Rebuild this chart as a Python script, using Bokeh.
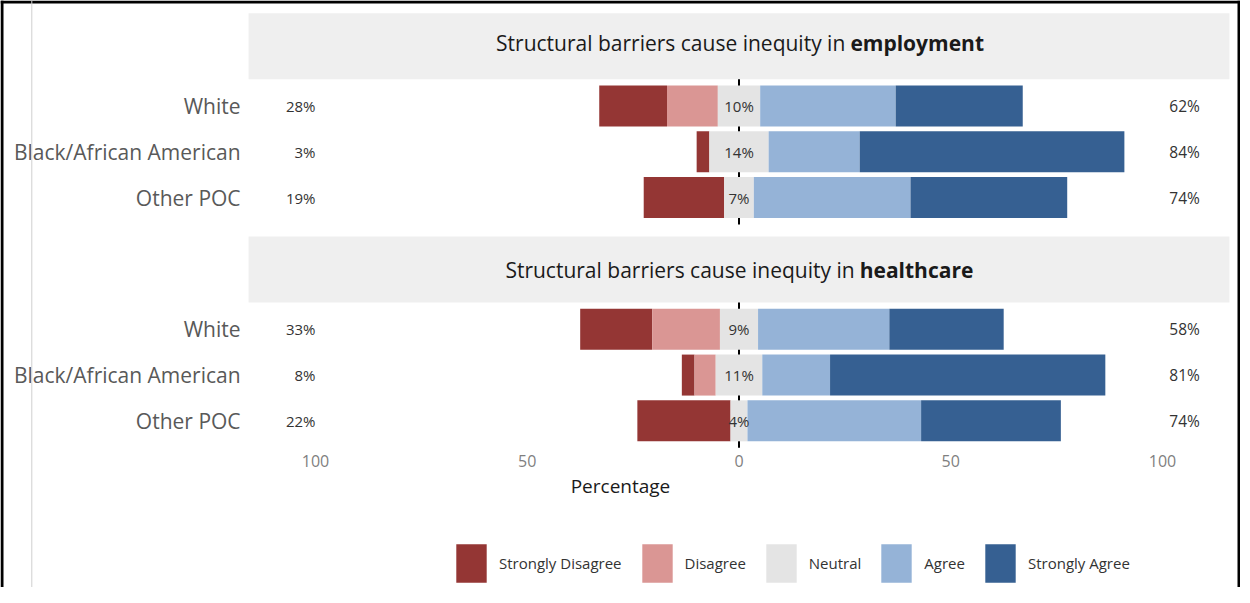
from bokeh.plotting import figure
from bokeh.models import (Range1d, LinearAxis, FixedTicker, ColumnDataSource,
                          Legend, LegendItem, Span)
from bokeh.core.properties import value
from bokeh.embed import file_html
from bokeh.resources import INLINE

# ---------------- data ----------------
categories = ["White", "Black/African American", "Other POC"]
levels = ["Strongly Disagree", "Disagree", "Neutral", "Agree", "Strongly Agree"]
panel_topics = ["employment", "healthcare"]

emp_strongly_disagree = [16, 3, 19]
emp_disagree = [12, 0, 0]
emp_neutral = [10, 14, 7]
emp_agree = [32, 21.5, 37]
emp_strongly_agree = [30, 62.5, 37]

hc_strongly_disagree = [17, 3, 22]
hc_disagree = [16, 5, 0]
hc_neutral = [9, 11, 4]
hc_agree = [31, 16, 41]
hc_strongly_agree = [27, 65, 33]

x_ticks = [-100, -50, 0, 50, 100]
x_tick_labels = ["100", "50", "0", "50", "100"]

# ---------------- styles / layout ----------------
colors = ["#943634", "#DA9694", "#E4E4E4", "#95B3D7", "#366092"]
FONT = "Open Sans"
W, H = 1240, 587
PX_PER_UNIT = 4.235
ZERO_PX = 738.5
TOP = 12.7
STRIP_H = 66
PAD = 4
ROW_H = 45.75
BAR_H = 41
GAP = 12
STRIP_X = 115.8
LEFT_LABEL_X = -100
RIGHT_LABEL_X = 101.6
TITLE_JOIN = [25.1, 27.3]
TITLE_GAP = 1.2
TITLE_DY = [-3, 1]

panels = [
    [emp_strongly_disagree, emp_disagree, emp_neutral, emp_agree, emp_strongly_agree],
    [hc_strongly_disagree, hc_disagree, hc_neutral, hc_agree, hc_strongly_agree],
]

x_range = Range1d(-ZERO_PX / PX_PER_UNIT, (W - ZERO_PX) / PX_PER_UNIT)
y_range = Range1d(H, 0)

p = figure(width=W, height=H, x_range=x_range, y_range=y_range,
           x_axis_location=None, y_axis_location=None,
           toolbar_location=None, output_backend="svg", min_border=0)
p.grid.grid_line_color = None
p.outline_line_color = None
p.background_fill_color = "white"
p.border_fill_color = "white"

strip_top, strip_bot, panel_bot, row_y = [], [], [], []
seg_cols = {lv: dict(y=[], left=[], right=[]) for lv in levels}
lab = dict(y=[], neutral=[], low=[], high=[])
for k, series in enumerate(panels):
    st = TOP + k * (STRIP_H + 2 * PAD + 3 * ROW_H + GAP)
    sb = st + STRIP_H
    pb = sb + 2 * PAD + 3 * ROW_H
    strip_top.append(st); strip_bot.append(sb); panel_bot.append(pb)
    sd, d, n, a, sa = series
    for i in range(len(categories)):
        yc = sb + PAD + (i + 0.5) * ROW_H
        row_y.append(yc)
        vals = [sd[i], d[i], n[i], a[i], sa[i]]
        start = -(sd[i] + d[i] + n[i] / 2)
        for lv, v in zip(levels, vals):
            seg_cols[lv]["y"].append(yc)
            seg_cols[lv]["left"].append(start)
            seg_cols[lv]["right"].append(start + v)
            start += v
        lab["y"].append(yc)
        lab["neutral"].append(f"{round(n[i])}%")
        lab["low"].append(f"{round(sd[i] + d[i])}%")
        lab["high"].append(f"{round(a[i] + sa[i])}%")

# strip backgrounds
p.quad(left=-STRIP_X, right=STRIP_X, top=strip_top, bottom=strip_bot,
       fill_color="#EFEFEF", line_color=None)

# zero reference line
p.segment(x0=[0, 0], y0=strip_bot, x1=[0, 0], y1=panel_bot,
          line_color="black", line_width=2)

# bars
renderers = []
for lv, c in zip(levels, colors):
    src = ColumnDataSource(seg_cols[lv])
    r = p.hbar(y="y", left="left", right="right", height=BAR_H, source=src,
               fill_color=c, line_color=None)
    renderers.append(r)

lsrc = ColumnDataSource(lab)
p.text(x=0, y="y", text="neutral", source=lsrc, text_align="center",
       text_baseline="middle", text_font=value(FONT), text_font_size="15px",
       text_color="#333333")
p.text(x=LEFT_LABEL_X, y="y", text="low", source=lsrc, text_align="right",
       text_baseline="middle", text_font=value(FONT), text_font_size="15px",
       text_color="#333333")
p.text(x=RIGHT_LABEL_X, y="y", text="high", source=lsrc, text_align="left",
       text_baseline="middle", text_font=value(FONT), text_font_size="15.5px",
       text_color="#333333")

# strip titles
for k, topic in enumerate(panel_topics):
    yc = (strip_top[k] + strip_bot[k]) / 2 + TITLE_DY[k]
    p.text(x=[TITLE_JOIN[k]], y=[yc], text=["Structural barriers cause inequity in"],
           text_align="right", text_baseline="middle", text_font=value(FONT),
           text_font_size="21px", text_color="#1a1a1a")
    p.text(x=[TITLE_JOIN[k] + TITLE_GAP], y=[yc], text=[topic],
           text_align="left", text_baseline="middle", text_font=value(FONT),
           text_font_size="21px", text_font_style="bold", text_color="#1a1a1a")

# category axis (left)
yaxis = LinearAxis(fixed_location=-STRIP_X,
                   ticker=FixedTicker(ticks=row_y),
                   major_label_overrides={y: categories[i % 3] for i, y in enumerate(row_y)},
                   axis_line_color=None, major_tick_line_color=None,
                   minor_tick_line_color=None, major_tick_out=0, major_tick_in=0,
                   major_label_standoff=8,
                   major_label_text_font=FONT, major_label_text_font_size="21px",
                   major_label_text_color="#595959")
p.add_layout(yaxis, "left")

# x axis (below)
xaxis = LinearAxis(fixed_location=panel_bot[-1],
                   ticker=FixedTicker(ticks=x_ticks),
                   major_label_overrides=dict(zip(x_ticks, x_tick_labels)),
                   axis_label="Percentage",
                   axis_line_color=None, major_tick_line_color=None,
                   minor_tick_line_color=None, major_tick_out=0, major_tick_in=0,
                   major_label_standoff=7, axis_label_standoff=3,
                   major_label_text_font=FONT, major_label_text_font_size="16px",
                   major_label_text_color="#7f7f7f",
                   axis_label_text_font=FONT, axis_label_text_font_size="19px",
                   axis_label_text_font_style="normal", axis_label_text_color="#1a1a1a")
p.add_layout(xaxis, "below")

# legend
legend = Legend(items=[LegendItem(label=lv, renderers=[r]) for lv, r in zip(levels, renderers)],
                orientation="horizontal", location=(452, 0),
                glyph_width=38, glyph_height=48, label_standoff=9, spacing=16,
                padding=0, margin=0, border_line_color=None, background_fill_alpha=0,
                label_text_font=FONT, label_text_font_size="15px",
                label_text_color="#333333")
p.add_layout(legend)

# frame decorations
x0 = x_range.start
p.add_layout(Span(location=x0 + 1.5 / PX_PER_UNIT, dimension="height",
                  line_color="black", line_width=3))
p.add_layout(Span(location=x0 + 1238.5 / PX_PER_UNIT, dimension="height",
                  line_color="black", line_width=3))
p.add_layout(Span(location=1.5, dimension="width", line_color="black", line_width=3))
p.add_layout(Span(location=x0 + 31.3 / PX_PER_UNIT, dimension="height",
                  line_color="#cfcfcf", line_width=1))

open("out.html", "w").write(file_html(p, INLINE))
